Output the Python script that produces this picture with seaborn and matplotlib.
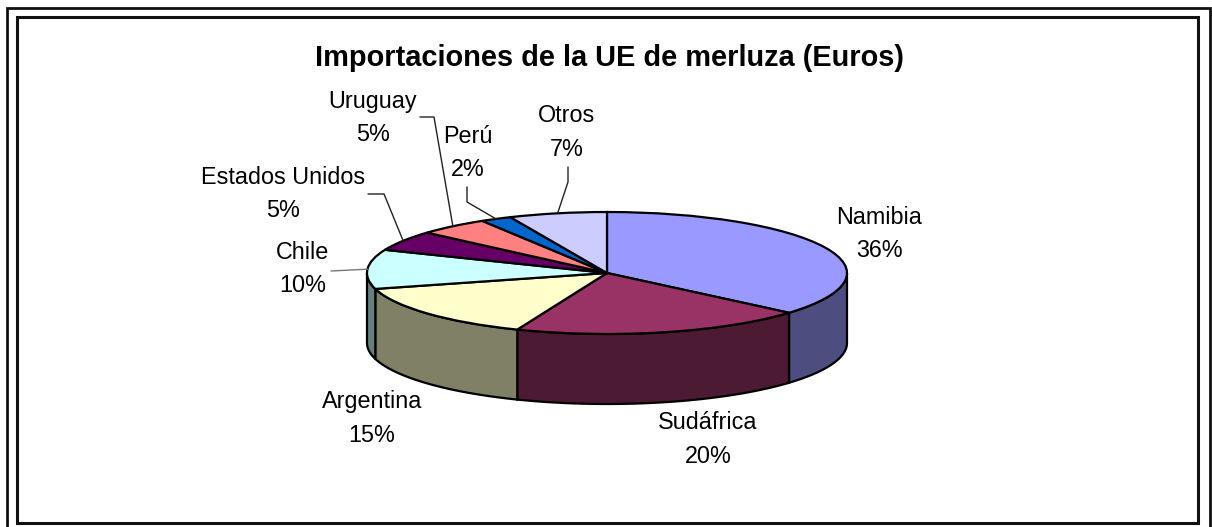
import numpy as np
import seaborn as sns
import matplotlib.pyplot as plt
from matplotlib.patches import Rectangle

countries = ['Namibia', 'Sudáfrica', 'Argentina', 'Chile', 'Estados Unidos', 'Uruguay', 'Perú', 'Otros']
shares = [36.3, 19.8, 14.7, 10.4, 5.3, 4.8, 2.1, 6.6]
top_colors = ['#9999FF', '#993366', '#FFFFCC', '#CCFFFF', '#660066', '#FF8080', '#0066CC', '#CCCCFF']
title = 'Importaciones de la UE de merluza (Euros)'

W, H = 1212, 527
CX, CY, RX, RY, DEPTH = 607, 273, 240, 61, 70

# label centre in pixels, and leader path in pixels (None = no leader)
label_pos = [(879, 234), (708, 439.5), (372, 418.5), (303, 269), (283, 194), (373, 118), (468, 153), (567, 132.5)]
elbows = [None, None, None, [(331, 271)], [(368, 194), (384, 194)], [(420, 117), (434, 117)],
          [(467, 187), (467, 202)], [(568, 167), (568, 182)]]

sns.set_theme(style='white')
plt.rcParams['font.family'] = ['Liberation Sans', 'DejaVu Sans']


def to_data(px, py):
    return (px - CX) / RX, (CY - py) / RY


def add_frame(fig, x0, y0, x1, y1, lw):
    fig.add_artist(Rectangle((x0 / W, 1 - y1 / H), (x1 - x0) / W, (y1 - y0) / H, transform=fig.transFigure,
                             fill=False, ec='#111111', lw=lw))


def c_half(c):
    return tuple(v * 0.5 for v in sns.color_palette([c])[0])


def draw_walls(ax, wedges, colors):
    # side of the disc: only the part of each slice facing the viewer
    for wedge, c in zip(wedges, colors):
        for off in (0, 360):
            a = max(wedge.theta1 + off, 180)
            b = min(wedge.theta2 + off, 360)
            if a >= b:
                continue
            t = np.radians(np.linspace(a, b, 80))
            x, y = np.cos(t), np.sin(t)
            d = DEPTH / RY
            ax.fill(np.r_[x, x[::-1]], np.r_[y, y[::-1] - d], fc=c_half(c), ec='black', lw=1.6, zorder=1)


fig = plt.figure(figsize=(W / 100, H / 100), dpi=100)
ax = fig.add_axes([0, 0, 1, 1])
wedges, _ = ax.pie(shares, colors=sns.color_palette(top_colors), startangle=90, counterclock=False,
                   wedgeprops=dict(ec='black', lw=1.6, zorder=2))
ax.set_aspect('auto')
ax.set_xlim(to_data(0, 0)[0], to_data(W, 0)[0])
ax.set_ylim(to_data(0, H)[1], to_data(0, 0)[1])
ax.axis('off')

draw_walls(ax, wedges, top_colors)

total = sum(shares)
for name, share, pos in zip(countries, shares, label_pos):
    x, y = to_data(*pos)
    ax.text(x, y, '%s\n%d%%' % (name, round(share / total * 100)), ha='center', va='center',
            fontsize=16.8, color='black', linespacing=1.58, zorder=5)

for name, wedge, elbow in zip(countries, wedges, elbows):
    if elbow is None:
        continue
    mid = np.radians((wedge.theta1 + wedge.theta2) / 2)
    xs = [to_data(*p)[0] for p in elbow] + [np.cos(mid)]
    ys = [to_data(*p)[1] for p in elbow] + [np.sin(mid)]
    ax.plot(xs, ys, color='#777777' if name == 'Chile' else '#222222', lw=1, zorder=4)

ax.text(*to_data(610, 58), title, ha='center', va='center', fontsize=20.9, fontweight='bold', color='black', zorder=5)

add_frame(fig, 7, 8, 1210, 530, 2)
add_frame(fig, 17, 17, 1198, 523, 2.2)

fig.savefig('out.png', dpi=100)
